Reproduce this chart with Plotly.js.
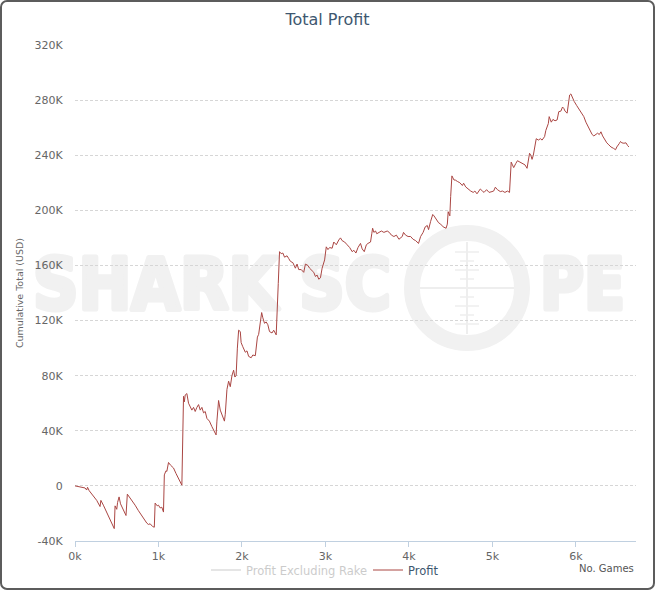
<!DOCTYPE html>
<html>
<head>
<meta charset="utf-8">
<script src="https://cdn.plot.ly/plotly-3.0.1.min.js"></script>
<style>
  html, body { margin: 0; padding: 0; background: #fff; }
  #frame {
    position: relative; width: 655px; height: 590px;
    box-sizing: border-box; border: 2px solid #5c5c5c; border-radius: 7px;
    overflow: hidden; background: #fff;
  }
  #mark, #chart { position: absolute; left: -2px; top: -2px; width: 655px; height: 590px; }
</style>
</head>
<body>
<div id="frame">
  <img id="mark" alt="">
  <div id="chart"></div>
</div>
<script>
// number of games played
var games = [
  0, 60, 120, 140, 150, 170, 220, 260, 300, 310, 340, 380, 420, 450, 470, 480, 500, 510, 528, 545,
  580, 611, 627, 650, 680, 720, 760, 800, 830, 860, 880, 900, 930, 950, 960, 985, 1000, 1020, 1040, 1060,
  1070, 1090, 1100, 1120, 1145, 1180, 1210, 1240, 1260, 1280,
  1300, 1310, 1320, 1340, 1360, 1380, 1400, 1420, 1440, 1460, 1480, 1500, 1520, 1540, 1560, 1580, 1610, 1640, 1660, 1690,
  1700, 1720, 1740, 1760, 1790, 1800, 1820, 1840, 1860, 1880, 1900, 1915, 1930, 1945, 1960, 1980, 1990, 2010, 2040, 2060,
  2080, 2110, 2130, 2160, 2185, 2200, 2215, 2236, 2250, 2270, 2290, 2310, 2330, 2360, 2380, 2410, 2435, 2450, 2470, 2490,
  2510, 2540, 2560, 2580, 2610, 2640, 2660, 2680, 2710, 2740, 2760, 2790, 2810, 2840, 2860, 2880, 2900, 2920, 2940, 2960,
  2990, 3010, 3030, 3050, 3080, 3100, 3130, 3160, 3180, 3200, 3230, 3260, 3290, 3320, 3340, 3365, 3390, 3420, 3440, 3465,
  3490, 3510, 3540, 3555, 3565, 3580, 3600, 3615, 3640, 3670, 3700, 3740, 3765, 3790, 3820, 3850, 3880, 3900, 3920, 3935,
  3960, 3990, 4020, 4050, 4080, 4115, 4140, 4170, 4195, 4220, 4235, 4260, 4285, 4300, 4320, 4355, 4380, 4410, 4445, 4460,
  4470, 4490, 4500, 4515, 4540, 4555, 4580, 4610, 4640, 4655, 4680, 4715, 4740, 4770, 4790, 4815, 4835, 4855, 4880, 4900,
  4930, 4960, 4995, 5015, 5035, 5060, 5095, 5120, 5150, 5180, 5205, 5215, 5225, 5240, 5255, 5280, 5300, 5330, 5360, 5390,
  5415, 5430, 5445, 5460, 5475, 5490, 5510, 5525, 5550, 5575, 5595, 5625, 5640, 5655, 5670, 5680, 5705, 5725, 5750, 5775,
  5795, 5820, 5840, 5855, 5870, 5895, 5910, 5925, 5940, 5955, 5980, 6010, 6040, 6070, 6095, 6120, 6150, 6175, 6195, 6215,
  6240, 6260, 6280, 6300, 6320, 6345, 6370, 6395, 6420, 6450, 6475, 6490, 6505, 6520, 6535, 6550, 6575, 6600, 6620, 6635
];

// cumulative profit, USD
var profit = [
  0, -500, -1500, -3000, -1000, -3500, -7000, -10500, -15000, -10500, -14000, -19000, -24000, -28000, -31000, -14500, -17000, -12000, -8000, -13000,
  -18000, -21500, -6000, -8000, -10000, -14000, -18000, -22000, -24000, -27000, -28000, -27500, -29500, -30000, -12500, -14500, -14000, -16000, -15500, -19000,
  8000, 11000, 10500, 17000, 15000, 13000, 9000, 5000, 2000, 500,
  65000, 61000, 66000, 67000, 60000, 58000, 55000, 57000, 54000, 57000, 59000, 55000, 57000, 53000, 54000, 49000, 47000, 43000, 41000, 37000,
  47000, 62000, 55000, 52000, 47000, 52000, 70000, 76000, 72000, 80000, 84000, 79000, 80000, 100000, 113000, 112000, 104000, 101000, 97000, 98000,
  94000, 93000, 95000, 94500, 108000, 110000, 116000, 125800, 122000, 118000, 119000, 117000, 112000, 111000, 113000, 109600, 147000, 170000, 168500, 169000,
  166000, 167000, 165000, 163000, 162000, 158000, 161000, 157000, 157000, 155000, 161000, 160000, 158000, 156000, 155000, 152000, 153000, 150000, 151000, 158000,
  164000, 173500, 171500, 173000, 172500, 177000, 175000, 178500, 180000, 178000, 177000, 175000, 173000, 170000, 171000, 169000, 173000, 176000, 172000, 170000,
  175000, 176000, 177000, 183000, 187000, 184000, 185000, 183000, 184000, 185000, 184000, 185000, 184000, 182000, 181000, 182000, 179000, 180000, 181000, 184000,
  182000, 181000, 181000, 179000, 178000, 176000, 181000, 184000, 188000, 189000, 186000, 192000, 197000, 196000, 194000, 191000, 190000, 188000, 187000, 190000,
  199000, 196000, 210000, 225000, 222000, 222000, 221000, 220000, 218000, 219700, 217000, 215000, 214000, 213000, 214000, 212000, 214000, 215500, 214000, 213000,
  215000, 213000, 213600, 214000, 216800, 215000, 213600, 214000, 213000, 214000, 213000, 225000, 235000, 233000, 231000, 234000, 236000, 235000, 234000, 233000,
  230500, 236000, 241400, 240000, 237000, 240000, 247000, 252000, 251000, 252000, 251000, 253500, 258000, 260700, 263000, 268000, 264000, 266000, 265000, 265600,
  271600, 272000, 275000, 274000, 272000, 270500, 277000, 283700, 284500, 282000, 279000, 276000, 273000, 271000, 268000, 264000, 260000, 257000, 255000, 254000,
  255000, 256000, 255000, 257000, 254000, 251000, 249000, 247500, 246000, 245000, 244000, 246000, 247000, 248500, 250000, 249000, 248700, 249000, 247000, 246000
];

// hidden series (toggled off in the legend): its values are not shown in the picture
var gamesExRake = [null];
var profitExRake = [null];

var xTicks = [0, 1000, 2000, 3000, 4000, 5000, 6000];
var xTickText = ['0k', '1k', '2k', '3k', '4k', '5k', '6k'];
var yTicks = [-40000, 0, 40000, 80000, 120000, 160000, 200000, 240000, 280000, 320000];
var yTickText = ['-40K', '0', '40K', '80K', '120K', '160K', '200K', '240K', '280K', '320K'];

// watermark logo behind the chart, as an image
(function drawMark() {
  var txt = 'font-family="DejaVu Sans, Liberation Sans, sans-serif" font-weight="bold" font-size="72" ' +
            'fill="#f1f1f1" stroke="#f1f1f1" stroke-width="5" stroke-linejoin="round" lengthAdjust="spacingAndGlyphs"';
  var ticks = '';
  for (var i = -4; i <= 4; i++) {
    if (i === 0) continue;
    var w = (i % 2 === 0) ? 12 : 7;
    ticks += '<line x1="' + (467 - w) + '" y1="' + (288 + i * 9) + '" x2="' + (467 + w) + '" y2="' + (288 + i * 9) +
             '" stroke="#eeeeee" stroke-width="1.5"/>';
  }
  var svg = '<svg xmlns="http://www.w3.org/2000/svg" width="655" height="590">' +
    '<text x="33" y="309" textLength="358" ' + txt + '>SHARK SC</text>' +
    '<text x="540" y="309" textLength="85" ' + txt + '>PE</text>' +
    '<circle cx="467" cy="288" r="55" fill="none" stroke="#f1f1f1" stroke-width="16"/>' +
    '<line x1="420" y1="288" x2="514" y2="288" stroke="#eeeeee" stroke-width="2"/>' +
    '<line x1="467" y1="242" x2="467" y2="334" stroke="#eeeeee" stroke-width="2"/>' +
    ticks + '</svg>';
  document.getElementById('mark').src = 'data:image/svg+xml;charset=utf-8,' + encodeURIComponent(svg);
})();

var font = 'DejaVu Sans, Verdana, sans-serif';

var traces = [
  {
    x: gamesExRake, y: profitExRake, name: 'Profit Excluding Rake',
    type: 'scatter', mode: 'lines', line: {color: '#999999', width: 1},
    visible: 'legendonly', showlegend: true, legend: 'legend2'
  },
  {
    x: games, y: profit, name: 'Profit',
    type: 'scatter', mode: 'lines', line: {color: '#AA4643', width: 1},
    legend: 'legend'
  }
];

var layout = {
  width: 655, height: 590,
  margin: {l: 75, r: 19, t: 45, b: 49},
  paper_bgcolor: 'rgba(0,0,0,0)',
  plot_bgcolor: 'rgba(0,0,0,0)',
  font: {family: font, color: '#666666'},
  title: {
    text: 'Total Profit', xref: 'container', x: 0.5, xanchor: 'center',
    yref: 'container', y: 1 - 19 / 590, yanchor: 'middle',
    font: {family: font, size: 16, color: '#3E576F'}
  },
  xaxis: {
    range: [0, 6720], tickvals: xTicks, ticktext: xTickText,
    showgrid: false, zeroline: false, showline: true, linecolor: '#C0D0E0', linewidth: 1,
    ticks: 'outside', ticklen: 5, tickcolor: '#C0D0E0',
    tickfont: {family: font, size: 11, color: '#666666'}, fixedrange: true
  },
  yaxis: {
    range: [-40000, 320000], tickvals: yTicks, ticktext: yTickText,
    showgrid: true, gridcolor: '#d6d6d6', griddash: '3px,2px', gridwidth: 1,
    zeroline: false, showline: false,
    ticks: 'outside', ticklen: 9, tickcolor: 'rgba(0,0,0,0)',
    tickfont: {family: font, size: 11, color: '#666666'},
    title: {text: 'Cumulative Total (USD)', standoff: 9, font: {family: font, size: 9.5, color: '#666666'}},
    fixedrange: true
  },
  showlegend: true,
  legend: {
    orientation: 'h', xref: 'container', yref: 'container',
    x: 368 / 655, xanchor: 'left', y: 1 - 570 / 590, yanchor: 'middle',
    font: {family: font, size: 11.5, color: '#3E576F'}, bgcolor: 'rgba(0,0,0,0)'
  },
  legend2: {
    orientation: 'h', xref: 'container', yref: 'container',
    x: 206 / 655, xanchor: 'left', y: 1 - 570 / 590, yanchor: 'middle',
    font: {family: font, size: 11.5, color: '#999999'}, bgcolor: 'rgba(0,0,0,0)'
  },
  annotations: [{
    text: 'No. Games', xref: 'paper', yref: 'paper', x: 1, xanchor: 'right',
    y: -27 / 496, yanchor: 'middle', showarrow: false,
    font: {family: font, size: 10, color: '#555555'}
  }]
};

Plotly.newPlot('chart', traces, layout, {displayModeBar: false, responsive: false});
</script>
</body>
</html>
